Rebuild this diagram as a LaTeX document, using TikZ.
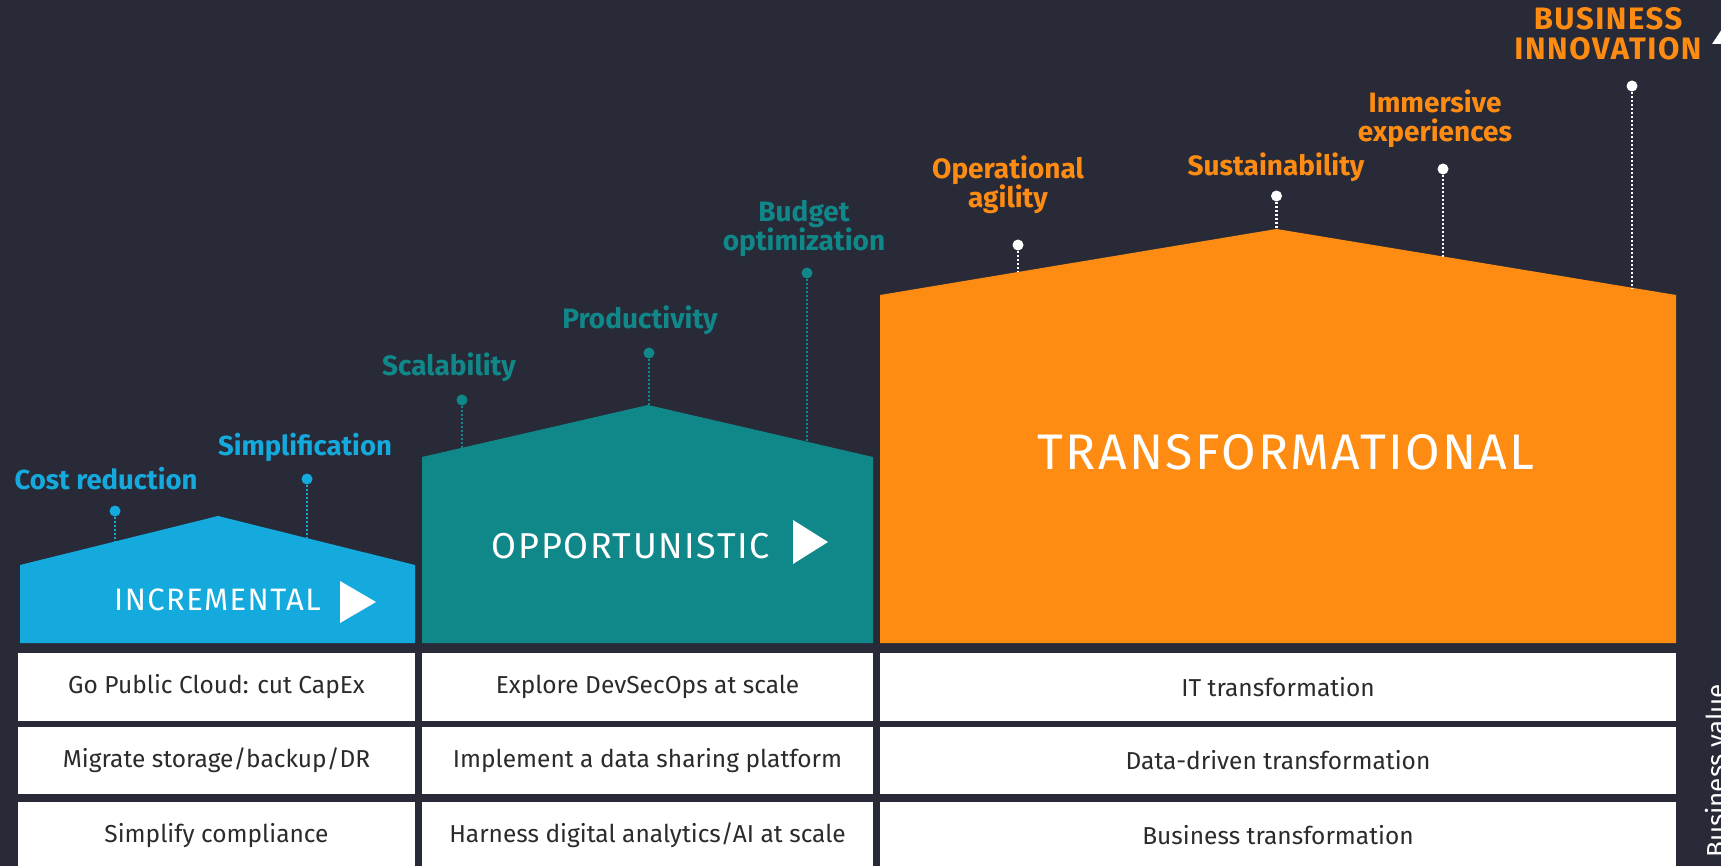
\documentclass[tikz,border=0pt]{standalone}
\usepackage{fontspec}
\setmainfont{Fira Sans}
\usepackage{xcolor}
\usepackage{tikz}

\definecolor{bgdark}{HTML}{282A37}
\definecolor{incblue}{HTML}{15AADD}
\definecolor{oppteal}{HTML}{10888A}
\definecolor{traorange}{HTML}{FF8C12}
\definecolor{cellink}{HTML}{2B2B2B}

\begin{document}
\begin{tikzpicture}[
    x=1pt, y=-1pt,
    cell/.style={
        fill=white, inner sep=0pt,
        text=cellink,
        font=\fontsize{24.5}{28}\selectfont
    },
    goal/.style={
        inner sep=0pt, anchor=base, align=center,
        font=\bfseries\fontsize{27.5}{28}\selectfont
    },
    pin/.style={circle, inner sep=0pt, minimum size=11pt},
    stem/.style={line width=2.6pt, dash pattern=on 2pt off 2pt},
    phase/.style={inner sep=0pt, anchor=base, text=white}
]
\useasboundingbox (0,0) rectangle (1721,866);
\clip (0,0) rectangle (1721,866);
\fill[bgdark] (0,0) rectangle (1721,866);

% the three stages
\fill[incblue]   (20,643) -- (20,565) -- (218,516) -- (415,565) -- (415,643) -- cycle;
\fill[oppteal]   (422,643) -- (422,457) -- (648,405) -- (873,457) -- (873,643) -- cycle;
\fill[traorange] (880,643) -- (880,295) -- (1276.5,229) -- (1676,295) -- (1676,643) -- cycle;

\node[phase, font=\fontsize{31}{34}\selectfont\addfontfeature{LetterSpace=4.5}] (inc) at (217.5,610) {INCREMENTAL};
\node[phase, font=\fontsize{36}{40}\selectfont\addfontfeature{LetterSpace=4.5}] (opp) at (631,558) {OPPORTUNISTIC};
\node[phase, font=\fontsize{50}{56}\selectfont\addfontfeature{LetterSpace=4.5}] (tra) at (1286,469) {TRANSFORMATIONAL};
\fill[white] (340,581) -- (376,602) -- (340,623) -- cycle;
\fill[white] (793,520) -- (828,542) -- (793,564) -- cycle;

% goals on the roofs
\node[pin, fill=incblue] (cost) at (115,511) {};
\node[pin, fill=incblue] (simp) at (307,479) {};
\coordinate (cost-r) at (115,542);
\coordinate (simp-r) at (307,538);
\draw[stem, incblue] (cost) -- (cost-r);
\draw[stem, incblue] (simp) -- (simp-r);
\node[goal, text=incblue] (costl) at (106,489) {Cost reduction};
\node[goal, text=incblue] (simpl) at (305,455) {Simplification};

\node[pin, fill=oppteal] (scal) at (462,400) {};
\node[pin, fill=oppteal] (prod) at (649,353) {};
\node[pin, fill=oppteal] (budg) at (807,273) {};
\coordinate (scal-r) at (462,448);
\coordinate (prod-r) at (649,405);
\coordinate (budg-r) at (807,442);
\draw[stem, oppteal] (scal) -- (scal-r);
\draw[stem, oppteal] (prod) -- (prod-r);
\draw[stem, oppteal] (budg) -- (budg-r);
\node[goal, text=oppteal, font=\bfseries\fontsize{28}{28}\selectfont] (scall) at (449,376) {Scalability};
\node[goal, text=oppteal, font=\bfseries\fontsize{28}{28}\selectfont] (prodl) at (640,329) {Productivity};
\node[goal, text=oppteal, font=\bfseries\fontsize{28}{28}\selectfont] (budgl) at (804,251) {Budget\\optimization};

\node[pin, fill=white] (agil) at (1018,245) {};
\node[pin, fill=white] (sust) at (1276.5,196) {};
\node[pin, fill=white] (imme) at (1443,169) {};
\node[pin, fill=white] (inno) at (1632,86) {};
\coordinate (agil-r) at (1018,272);
\coordinate (sust-r) at (1276.5,229);
\coordinate (imme-r) at (1443,257);
\coordinate (inno-r) at (1632,288);
\draw[stem, white] (agil) -- (agil-r);
\draw[stem, white] (sust) -- (sust-r);
\draw[stem, white] (imme) -- (imme-r);
\draw[stem, white] (inno) -- (inno-r);
\node[goal, text=traorange, font=\bfseries\fontsize{28}{27}\selectfont] (agill) at (1008,208) {Operational\\agility};
\node[goal, text=traorange, font=\bfseries\fontsize{28}{28}\selectfont] (sustl) at (1276,176) {Sustainability};
\node[goal, text=traorange, font=\bfseries\fontsize{28}{29}\selectfont] (immel) at (1435,142) {Immersive\\experiences};
\node[goal, text=traorange, font=\bfseries\fontsize{31}{30}\selectfont\addfontfeature{LetterSpace=5}] (innol) at (1608,60) {BUSINESS\\INNOVATION};

% table of actions
\node[cell, minimum width=397pt, minimum height=68pt] (inc1) at (216.5,687)   {Go Public Cloud: cut CapEx};
\node[cell, minimum width=397pt, minimum height=67pt] (inc2) at (216.5,760.5) {Migrate storage/backup/DR};
\node[cell, minimum width=397pt, minimum height=67pt] (inc3) at (216.5,835.5) {Simplify compliance};
\node[cell, minimum width=451pt, minimum height=68pt] (opp1) at (647.5,687)   {Explore DevSecOps at scale};
\node[cell, minimum width=451pt, minimum height=67pt] (opp2) at (647.5,760.5) {Implement a data sharing platform};
\node[cell, minimum width=451pt, minimum height=67pt] (opp3) at (647.5,835.5) {Harness digital analytics/AI at scale};
\node[cell, minimum width=796pt, minimum height=68pt] (tra1) at (1278,687)    {IT transformation};
\node[cell, minimum width=796pt, minimum height=67pt] (tra2) at (1278,760.5)  {Data-driven transformation};
\node[cell, minimum width=796pt, minimum height=67pt] (tra3) at (1278,835.5)  {Business transformation};

% value axis, cut at the edge
\fill[white] (1712,44) -- (1728,20) -- (1744,44) -- cycle;
\node[inner sep=0pt, anchor=north west, rotate=90, text=white,
      font=\fontsize{26}{28}\selectfont] (axis) at (1705,858) {Business value};
\end{tikzpicture}
\end{document}
